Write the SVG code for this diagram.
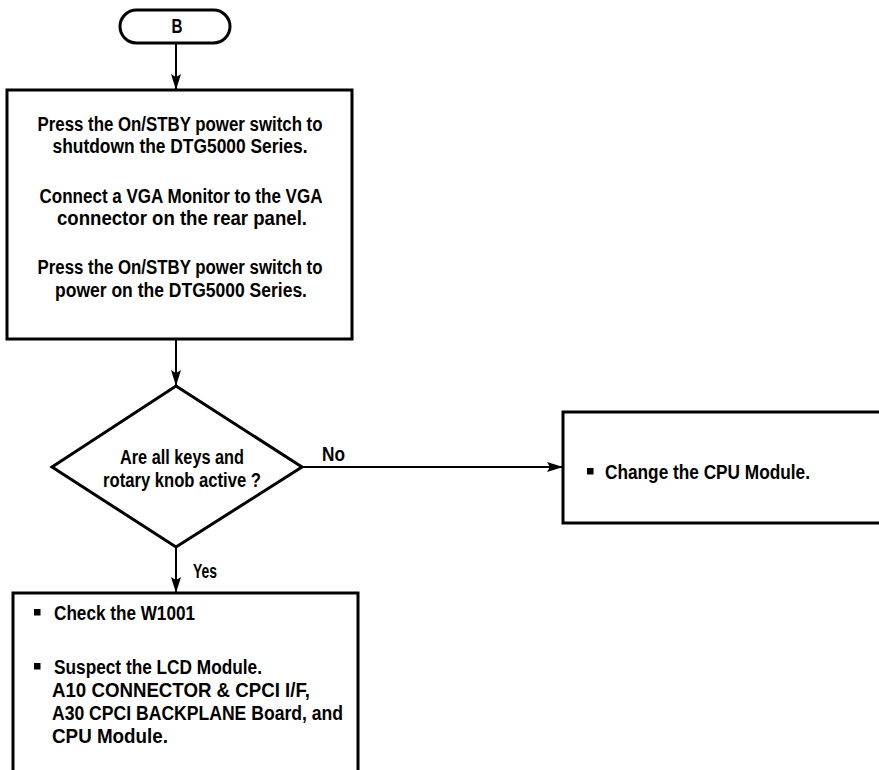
<svg xmlns="http://www.w3.org/2000/svg" width="879" height="770" viewBox="0 0 879 770">
<style>
.shape{fill:#fff;stroke:#000;stroke-width:3}
.conn{fill:none;stroke:#000;stroke-width:2}
text{font-family:"Liberation Sans",Arial,sans-serif;font-weight:bold;font-size:19.5px;fill:#000}
.c{text-anchor:middle}
</style>
<defs>
<marker id="arr" markerUnits="userSpaceOnUse" markerWidth="16" markerHeight="10" viewBox="0 0 16 10" refX="16" refY="5" orient="auto">
<path d="M0,0 L16,5 L0,10 L3,5 Z" fill="#000"/>
</marker>
</defs>
<rect width="879" height="770" fill="#fff"/>
<g id="connectors">
<line class="conn" x1="176" y1="43" x2="176" y2="90" marker-end="url(#arr)"/>
<line class="conn" x1="176" y1="339" x2="176" y2="386" marker-end="url(#arr)"/>
<line class="conn" x1="302" y1="467" x2="563" y2="467" marker-end="url(#arr)"/>
<line class="conn" x1="176" y1="547" x2="176" y2="593" marker-end="url(#arr)"/>
<text x="322" y="461" textLength="23" lengthAdjust="spacingAndGlyphs">No</text>
<text x="193" y="578" textLength="24" lengthAdjust="spacingAndGlyphs">Yes</text>
</g>
<g id="start">
<rect class="shape" x="120" y="10" width="110" height="33" rx="16.5" ry="16.5"/>
<text class="c" x="177" y="33" textLength="11" lengthAdjust="spacingAndGlyphs">B</text>
</g>
<g id="step1">
<rect class="shape" x="7" y="90" width="345" height="249"/>
<text class="c" x="180" y="131" textLength="285" lengthAdjust="spacingAndGlyphs">Press the On/STBY power switch to</text>
<text class="c" x="180" y="153" textLength="255" lengthAdjust="spacingAndGlyphs">shutdown the DTG5000 Series.</text>
<text class="c" x="181" y="203" textLength="283" lengthAdjust="spacingAndGlyphs">Connect a VGA Monitor to the VGA</text>
<text class="c" x="182" y="225" textLength="250" lengthAdjust="spacingAndGlyphs">connector on the rear panel.</text>
<text class="c" x="180" y="274" textLength="285" lengthAdjust="spacingAndGlyphs">Press the On/STBY power switch to</text>
<text class="c" x="181" y="297" textLength="252" lengthAdjust="spacingAndGlyphs">power on the DTG5000 Series.</text>
</g>
<g id="decision">
<polygon class="shape" points="176,386 302,467 176,547 52,467"/>
<text class="c" x="182" y="464" textLength="124" lengthAdjust="spacingAndGlyphs">Are all keys and</text>
<text class="c" x="182" y="487" textLength="158" lengthAdjust="spacingAndGlyphs">rotary knob active ?</text>
</g>
<g id="no-action">
<path class="shape" d="M881,412 H563 V523 H881"/>
<rect x="587" y="468" width="6.5" height="6.5" fill="#000"/>
<text x="605" y="479" textLength="205" lengthAdjust="spacingAndGlyphs">Change the CPU Module.</text>
</g>
<g id="yes-action">
<path class="shape" d="M13,772 V593 H358 V772"/>
<rect x="34" y="609" width="6.5" height="6.5" fill="#000"/>
<text x="54" y="620" textLength="141" lengthAdjust="spacingAndGlyphs">Check the W1001</text>
<rect x="34" y="663" width="6.5" height="6.5" fill="#000"/>
<text x="54" y="674" textLength="208" lengthAdjust="spacingAndGlyphs">Suspect the LCD Module.</text>
<text x="52" y="697" textLength="258" lengthAdjust="spacingAndGlyphs">A10 CONNECTOR &amp; CPCI I/F,</text>
<text x="52" y="720" textLength="291" lengthAdjust="spacingAndGlyphs">A30 CPCI BACKPLANE Board, and</text>
<text x="52" y="743" textLength="116" lengthAdjust="spacingAndGlyphs">CPU Module.</text>
</g>
</svg>
